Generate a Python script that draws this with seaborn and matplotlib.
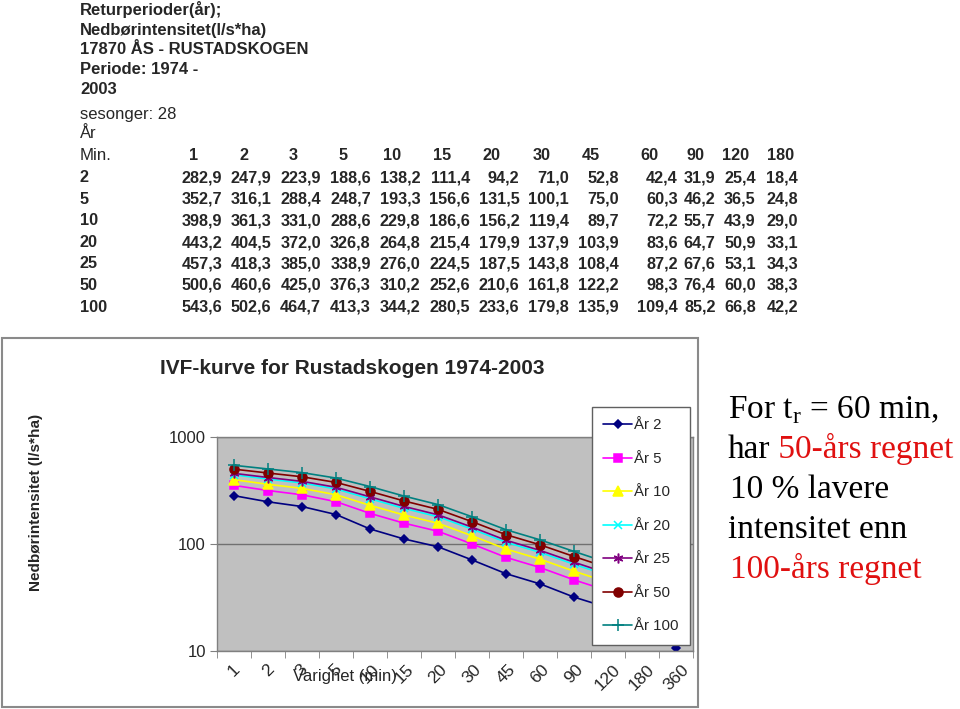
"""IVF-kurve for Rustadskogen 1974-2003 (tabell + diagram)."""

import numpy as np
import pandas as pd
import matplotlib

matplotlib.use("Agg")
import matplotlib.pyplot as plt
import matplotlib.transforms as mtransforms
from matplotlib import font_manager
from matplotlib.patches import Rectangle
import seaborn as sns

DURATIONS = ["1", "2", "3", "5", "10", "15", "20", "30", "45", "60", "90", "120", "180"]
CHART_DURATIONS = DURATIONS + ["360"]
RETURN_PERIODS = ["2", "5", "10", "20", "25", "50", "100"]

AAR_2 = [282.9, 247.9, 223.9, 188.6, 138.2, 111.4, 94.2, 71.0, 52.8, 42.4, 31.9, 25.4, 18.4]
AAR_5 = [352.7, 316.1, 288.4, 248.7, 193.3, 156.6, 131.5, 100.1, 75.0, 60.3, 46.2, 36.5, 24.8]
AAR_10 = [398.9, 361.3, 331.0, 288.6, 229.8, 186.6, 156.2, 119.4, 89.7, 72.2, 55.7, 43.9, 29.0]
AAR_20 = [443.2, 404.5, 372.0, 326.8, 264.8, 215.4, 179.9, 137.9, 103.9, 83.6, 64.7, 50.9, 33.1]
AAR_25 = [457.3, 418.3, 385.0, 338.9, 276.0, 224.5, 187.5, 143.8, 108.4, 87.2, 67.6, 53.1, 34.3]
AAR_50 = [500.6, 460.6, 425.0, 376.3, 310.2, 252.6, 210.6, 161.8, 122.2, 98.3, 76.4, 60.0, 38.3]
AAR_100 = [543.6, 502.6, 464.7, 413.3, 344.2, 280.5, 233.6, 179.8, 135.9, 109.4, 85.2, 66.8, 42.2]
TABLE = [AAR_2, AAR_5, AAR_10, AAR_20, AAR_25, AAR_50, AAR_100]

# 360 min: only the År 2 point peeks out below the legend
VALUES_360 = [10.7, np.nan, np.nan, np.nan, np.nan, np.nan, np.nan]

SERIES_LABELS = [f"År {p}" for p in RETURN_PERIODS]
SERIES_COLORS = ["#000080", "#FF00FF", "#FFFF00", "#00FFFF", "#800080", "#800000", "#008080"]
SERIES_MARKERS = ["D", "s", "^", "x", (6, 2, 0), "o", "+"]
MARKER_SIZES = [4.5, 6, 6.5, 6, 7, 6.5, 8]

INFO_BOLD = ["Returperioder(år);", "Nedbørintensitet(l/s*ha)", "17870 ÅS - RUSTADSKOGEN",
             "Periode: 1974 -", "2003"]
INFO_PLAIN = ["sesonger: 28", "År"]

W, H = 960, 709


def fx(px):
    return px / W


def fy(py):
    return 1 - py / H


def fmt(v):
    return f"{v:.1f}".replace(".", ",")


def main() -> None:
    sns.set_style("white")
    plt.rcParams["font.family"] = ["Liberation Sans", "DejaVu Sans"]
    plt.rcParams["mathtext.fontset"] = "custom"
    plt.rcParams["mathtext.rm"] = "Liberation Serif"

    names = {f.name for f in font_manager.fontManager.ttflist}
    if "Liberation Sans Narrow" in names:
        narrow, tsize = "Liberation Sans Narrow", 14
    else:
        narrow, tsize = "Liberation Sans", 11.7

    fig = plt.figure(figsize=(9.6, 7.09), dpi=100)

    # ---- text block / table on top
    for text, y in zip(INFO_BOLD, [10, 30, 49, 70, 89]):
        fig.text(fx(80), fy(y), text, fontsize=12, fontweight="bold", va="center")
    for text, y in zip(INFO_PLAIN, [115, 134]):
        fig.text(fx(80), fy(y), text, fontsize=12, va="center")
    fig.text(fx(80), fy(156), "Min.", family=narrow, fontsize=tsize + 0.5, va="center")

    right_edges = [222, 271.6, 321.2, 370.8, 420.4, 470, 519.6, 569.2, 618.8, 677.8, 715.6, 755.7, 798.2]
    head_shift = [28] * 10 + [20, 20, 18]
    for dur, r, s in zip(DURATIONS, right_edges, head_shift):
        fig.text(fx(r - s), fy(156), dur, family=narrow, fontsize=tsize,
                 fontweight="bold", ha="center", va="center")
    row_y = [178, 199.5, 221, 242.5, 264, 285.5, 307]
    for period, values, y in zip(RETURN_PERIODS, TABLE, row_y):
        fig.text(fx(80), fy(y), period, family=narrow, fontsize=tsize,
                 fontweight="bold", va="center")
        for v, r in zip(values, right_edges):
            fig.text(fx(r), fy(y), fmt(v), family=narrow, fontsize=tsize,
                     fontweight="bold", ha="right", va="center")

    # ---- chart frame
    fig.patches.append(Rectangle((fx(2), fy(707)), fx(698) - fx(2), fy(338) - fy(707),
                                 transform=fig.transFigure, fill=False,
                                 edgecolor="#8a8a8a", linewidth=1.5, zorder=-1))

    ax = fig.add_axes([fx(217), fy(651), fx(693) - fx(217), fy(437) - fy(651)])
    ax.set_facecolor("#C0C0C0")

    rows = []
    for label, values, v360 in zip(SERIES_LABELS, TABLE, VALUES_360):
        for pos, v in enumerate(values + [v360]):
            rows.append({"serie": label, "pos": pos, "value": v})
    df = pd.DataFrame(rows).dropna()

    for label, color, marker, ms in zip(SERIES_LABELS, SERIES_COLORS, SERIES_MARKERS, MARKER_SIZES):
        sub = df[df["serie"] == label]
        sns.lineplot(data=sub, x="pos", y="value", ax=ax, color=color, marker=marker,
                     markersize=ms, markeredgecolor=color, markeredgewidth=1.1,
                     linewidth=1.2, label=label, errorbar=None, sort=False)

    ax.set_yscale("log")
    ax.set_ylim(10, 1000)
    ax.set_xlim(-0.5, len(CHART_DURATIONS) - 0.5)
    ax.yaxis.set_minor_locator(matplotlib.ticker.NullLocator())
    ax.set_yticks([10, 100, 1000])
    ax.set_yticklabels(["10", "100", "1000"], fontsize=12)
    ax.yaxis.grid(True, color="#707070", linewidth=1)
    ax.set_axisbelow(True)

    ax.set_xticks(range(len(CHART_DURATIONS)))
    ax.set_xticks(np.arange(-0.5, len(CHART_DURATIONS)), minor=True)
    ax.set_xticklabels(CHART_DURATIONS, fontsize=12.5, rotation=45, ha="center")
    shift = mtransforms.ScaledTranslation(-6 / 100, 0, fig.dpi_scale_trans)
    for lbl in ax.get_xticklabels():
        lbl.set_transform(lbl.get_transform() + shift)
    ax.tick_params(axis="x", which="major", length=0, pad=8)
    ax.tick_params(axis="x", which="minor", length=5, color="#808080", direction="out", bottom=True)
    ax.tick_params(axis="y", which="major", length=5, color="#808080", direction="out", left=True, pad=3)
    for spine in ax.spines.values():
        spine.set_color("#808080")
        spine.set_linewidth(1)

    ax.set_xlabel("Varighet (min)", fontsize=12, va="center")
    ax.xaxis.set_label_coords((345 - 217) / 476, (651 - 676) / 214)
    ax.set_ylabel("Nedbørintensitet (l/s*ha)", fontsize=11, fontweight="bold", va="center")
    ax.yaxis.set_label_coords((36 - 217) / 476, (651 - 502) / 214)

    fig.text(fx(352), fy(368), "IVF-kurve for Rustadskogen 1974-2003",
             fontsize=15, fontweight="bold", ha="center", va="center")

    leg = ax.legend(loc="upper left", bbox_to_anchor=(fx(592), fy(407)),
                    bbox_transform=fig.transFigure, fontsize=10.8, frameon=True,
                    fancybox=False, framealpha=1, edgecolor="#606060", borderaxespad=0,
                    labelspacing=1.3, handlelength=1.9, handletextpad=0.15, borderpad=0.75)
    leg.get_frame().set_linewidth(1)
    leg.set_zorder(10)

    # ---- comment on the right
    serif = dict(family="Liberation Serif", fontsize=24, va="baseline")
    base = [418, 458, 498, 538, 578]
    fig.text(fx(728), fy(base[0]), r"For t$_{\mathrm{r}}$ = 60 min,", color="black", **serif)
    t = fig.text(fx(728), fy(base[1]), "har", color="black", **serif)
    ax.annotate(" 50-års regnet", xy=(1, 0), xycoords=t, color="#E01010",
                annotation_clip=False, family="Liberation Serif", fontsize=24, va="bottom")
    fig.text(fx(730), fy(base[2]), "10 % lavere", color="black", **serif)
    fig.text(fx(728), fy(base[3]), "intensitet enn", color="black", **serif)
    fig.text(fx(730), fy(base[4]), "100-års regnet", color="#E01010", **serif)

    fig.savefig("out.png", dpi=100)
    plt.close(fig)


if __name__ == "__main__":
    main()
